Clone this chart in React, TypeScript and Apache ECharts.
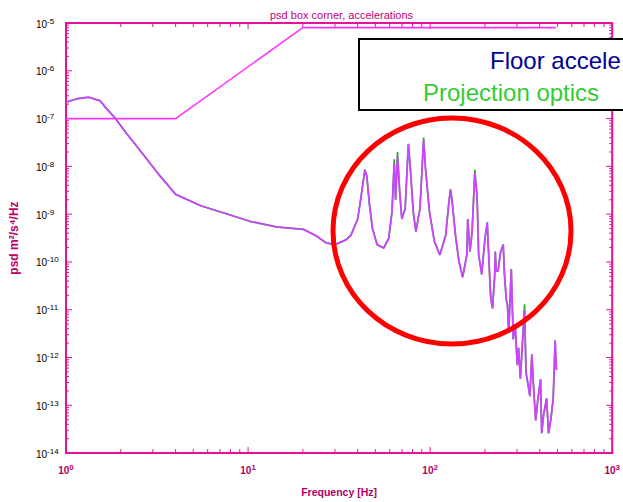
import React, { useEffect, useRef } from 'react';
import * as echarts from 'echarts';

// Main PSD curve (floor acceleration)
const mainFreq = [
  1, 1.15, 1.33, 1.54, 1.66, 1.85, 2.13, 2.63, 3.23, 4.0, 5.5, 7.3, 10.2, 14.3, 20.2, 23.4, 26.9, 30, 34.5,
  36.7, 40, 41.5, 43.8, 44.9, 46.3, 48.2, 51.2, 55.6, 59.2, 61.7, 63.5, 64.6, 66.2, 67.9, 69.9, 72.9, 75.9,
  78.2, 80.8, 83.5, 87.9, 92.1, 94.4, 99.2, 105.5, 113, 121.7, 126.7, 129.5, 132.3, 137.8, 143.8, 150.9,
  159, 160.9, 165.5, 170, 176, 181, 184.7, 192, 200, 206, 208, 215, 220, 226, 228, 230, 236, 244, 252,
  256, 262, 266, 270, 279, 286, 293, 301, 306, 313, 330, 336, 353, 362, 368, 380, 390, 404, 410, 420,
  436, 447, 460, 474, 486, 490, 494,
];
const mainPsd = [
  2.2e-7, 2.6e-7, 2.8e-7, 2.35e-7, 1.66e-7, 1.05e-7, 5.1e-8, 1.86e-8, 6.8e-9, 2.6e-9, 1.5e-9, 1.07e-9,
  7.1e-10, 5.4e-10, 4.8e-10, 3.6e-10, 2.5e-10, 2.3e-10, 2.9e-10,
  3.6e-10, 7.9e-10, 2.0e-9, 8.5e-9, 6.2e-9, 1.75e-9, 5.0e-10, 2.3e-10, 1.95e-10, 3.1e-10, 1.1e-9, 1.15e-8,
  2.0e-9, 1.6e-8, 3.3e-9, 7.9e-10, 1.3e-9, 2.95e-8,
  7.2e-9, 1.1e-9, 4.3e-10, 1.3e-9, 3.5e-8, 8.5e-9, 1.1e-9, 2.7e-10, 1.4e-10, 3.6e-10, 1.75e-9, 3.3e-9,
  1.75e-9, 3.6e-10, 1.05e-10, 4.8e-11,
  1.4e-10, 7.9e-10, 1.65e-10, 4.3e-10, 7.2e-9, 2.4e-9, 1.4e-10, 5.5e-11, 3.1e-10, 6.7e-10, 2.7e-10,
  1.85e-11, 1.07e-11, 4.8e-11, 1.65e-10, 6.5e-11, 6.5e-11, 1.65e-10, 2.3e-10,
  5.5e-11, 1.6e-11, 1.26e-11, 3.3e-12, 7.1e-11, 2.4e-12, 5e-12, 6.9e-13, 1.6e-12, 3.6e-13, 9.8e-12, 5e-13,
  1.55e-13, 1.17e-12, 3.2e-13, 4.8e-14, 1.3e-13, 3.5e-13, 2.6e-14, 6.3e-14,
  1.4e-13, 2.6e-14, 5e-14, 1.35e-13, 2.3e-12, 1e-12, 5.5e-13,
];

// Projection optics: visible only where it pokes out above the main curve
const greenPeakFreq = [63.5, 66.2, 92.1, 176, 330];
const greenPeakPsd = [1.4e-8, 2.0e-8, 4.0e-8, 8.5e-9, 1.3e-11];

// Upper limit line
const limitFreq = [1, 4, 20, 490];
const limitPsd = [1e-7, 1e-7, 8e-6, 8e-6];

// Axis decades
const xDecades = [1, 10, 100, 1000];
const yDecades = [1e-14, 1e-13, 1e-12, 1e-11, 1e-10, 1e-9, 1e-8, 1e-7, 1e-6, 1e-5];
const minorMultipliers = [2, 3, 4, 5, 6, 7, 8, 9];

const titleText = 'psd box corner, accelerations';
const xName = 'Frequency [Hz]';
const yName = 'psd m²/s⁴/Hz';
// legend texts as visible in the reference (the first is cut by the picture's edge)
const legendTexts = ['Floor accele', 'Projection optics'];

const FONT = '"Liberation Sans", Arial, Helvetica, sans-serif';
const PINK = '#e8109a';
const DARK_PINK = '#b0005f';

export default function App() {
  const ref = useRef<HTMLDivElement>(null);

  useEffect(() => {
    if (!ref.current) return;
    const chart = echarts.init(ref.current, undefined, { renderer: 'svg' });

    const mainData = mainFreq.map((f, i) => [f, mainPsd[i]]);
    const greenData = mainFreq.map((f, i) => {
      const k = greenPeakFreq.indexOf(f);
      return [f, k >= 0 ? greenPeakPsd[k] : mainPsd[i]];
    });
    const limitData = limitFreq.map((f, i) => [f, limitPsd[i]]);

    const tickData: number[][] = [];
    xDecades.forEach((d) => {
      tickData.push([d, 1e-14, 0]);
      if (d < 1000) minorMultipliers.forEach((m) => tickData.push([d * m, 1e-14, 1]));
    });
    yDecades.forEach((d) => {
      tickData.push([1, d, 2]);
      if (d < 1e-5) minorMultipliers.forEach((m) => tickData.push([1, d * m, 3]));
    });

    const expLabel = (v: number) => `{b|10}{e|${Math.round(Math.log10(v))}}`;

    const option: any = {
      animation: false,
      backgroundColor: '#ffffff',
      title: {
        text: titleText,
        left: 265,
        top: 4,
        textStyle: { fontSize: 11, fontWeight: 'normal', color: '#c0007a', fontFamily: FONT },
      },
      grid: {
        left: 62,
        top: 23,
        right: 4,
        bottom: 39,
        show: true,
        borderColor: PINK,
        borderWidth: 2,
        backgroundColor: 'transparent',
      },
      xAxis: {
        type: 'log',
        logBase: 10,
        min: 1,
        max: 1000,
        splitNumber: 3,
        axisLine: { show: true, lineStyle: { color: PINK, width: 2 } },
        axisTick: { show: false },
        minorTick: { show: false },
        splitLine: { show: false },
        axisLabel: {
          showMinLabel: true,
          showMaxLabel: true,
          margin: 10,
          formatter: expLabel,
          rich: {
            b: { fontSize: 10, fontWeight: 'bold', color: DARK_PINK, fontFamily: FONT, lineHeight: 12, verticalAlign: 'bottom' },
            e: { fontSize: 8, fontWeight: 'bold', color: DARK_PINK, fontFamily: FONT, lineHeight: 8, verticalAlign: 'top', padding: [0, 0, 10, 0] },
          },
        },
        name: xName,
        nameLocation: 'middle',
        nameGap: 27,
        nameTextStyle: { fontSize: 10.5, fontWeight: 'bold', color: DARK_PINK, fontFamily: FONT },
      },
      yAxis: {
        type: 'log',
        logBase: 10,
        min: 1e-14,
        max: 1e-5,
        splitNumber: 9,
        axisLine: { show: true, lineStyle: { color: PINK, width: 2 } },
        axisTick: { show: false },
        minorTick: { show: false },
        splitLine: { show: false },
        axisLabel: {
          showMinLabel: true,
          showMaxLabel: true,
          margin: 30,
          align: 'left',
          formatter: expLabel,
          rich: {
            b: { fontSize: 10, color: '#000', fontFamily: FONT, lineHeight: 12, verticalAlign: 'bottom' },
            e: { fontSize: 8, color: '#000', fontFamily: FONT, lineHeight: 8, verticalAlign: 'top', padding: [0, 0, 10, 0] },
          },
        },
        name: yName,
        nameLocation: 'middle',
        nameGap: 46,
        nameRotate: 90,
        nameTextStyle: { fontSize: 12, fontWeight: 'bold', color: '#c0006a', fontFamily: FONT },
      },
      series: [
        {
          type: 'custom',
          silent: true,
          clip: false,
          z: 5,
          data: tickData,
          encode: { x: 0, y: 1 },
          renderItem: (params: any, api: any) => {
            const kind = api.value(2);
            const cs = params.coordSys;
            const children: any[] = [];
            const st = { stroke: PINK, lineWidth: 1 };
            if (kind < 2) {
              const x = api.coord([api.value(0), 1e-14])[0];
              const len = kind === 0 ? 6 : 4;
              const yb = cs.y + cs.height;
              children.push({ type: 'line', shape: { x1: x, y1: yb, x2: x, y2: yb - len }, style: st });
              children.push({ type: 'line', shape: { x1: x, y1: cs.y, x2: x, y2: cs.y + len }, style: st });
            } else {
              const y = api.coord([1, api.value(1)])[1];
              const len = kind === 2 ? 6 : 3;
              const xr = cs.x + cs.width;
              children.push({ type: 'line', shape: { x1: cs.x, y1: y, x2: cs.x + len, y2: y }, style: st });
              children.push({ type: 'line', shape: { x1: xr, y1: y, x2: xr - len, y2: y }, style: st });
            }
            return { type: 'group', children };
          },
        },
        {
          name: 'Limit',
          type: 'line',
          data: limitData,
          showSymbol: false,
          lineStyle: { color: '#ff33ff', width: 1.6 },
          itemStyle: { color: '#ff33ff' },
          z: 6,
        },
        {
          name: 'Projection optics',
          type: 'line',
          data: greenData,
          showSymbol: false,
          lineStyle: { color: '#22aa22', width: 1.6 },
          itemStyle: { color: '#22aa22' },
          z: 7,
        },
        {
          name: 'Floor acceleration',
          type: 'line',
          data: mainData,
          showSymbol: false,
          lineStyle: { color: '#cc44ff', width: 1.8 },
          itemStyle: { color: '#cc44ff' },
          z: 8,
        },
      ],
      graphic: [
        {
          type: 'ellipse',
          silent: true,
          z: 50,
          shape: { cx: 452, cy: 231, rx: 119, ry: 113 },
          style: { fill: 'transparent', stroke: '#ff0000', lineWidth: 5 },
        },
        {
          type: 'rect',
          silent: true,
          z: 60,
          shape: { x: 359, y: 39, width: 300, height: 71 },
          style: { fill: '#ffffff', stroke: '#000000', lineWidth: 2 },
        },
        {
          type: 'text',
          silent: true,
          z: 61,
          x: 490,
          y: 60,
          style: { text: legendTexts[0], fill: '#000099', font: `24px ${FONT}`, verticalAlign: 'middle' },
        },
        {
          type: 'text',
          silent: true,
          z: 61,
          x: 423,
          y: 92,
          style: { text: legendTexts[1], fill: '#33cc33', font: `24px ${FONT}`, verticalAlign: 'middle' },
        },
      ],
    };

    chart.setOption(option);
    return () => chart.dispose();
  }, []);

  return (
    <div
      ref={ref}
      style={{ position: 'fixed', left: 0, top: 0, width: 623, height: 502, background: '#fff', overflow: 'hidden' }}
    />
  );
}
